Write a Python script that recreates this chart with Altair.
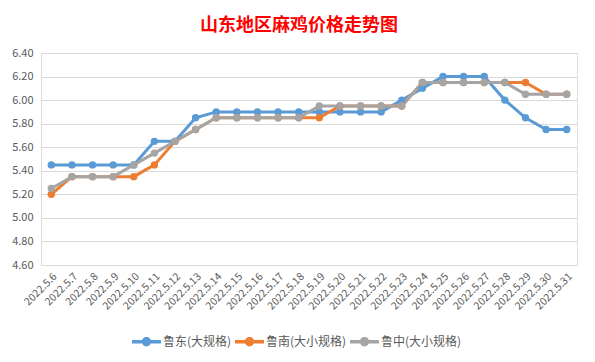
import altair as alt
import pandas as pd

dates = ["2022.5.%d" % d for d in range(6, 32)]
series_names = ["鲁东(大规格)", "鲁南(大小规格)", "鲁中(大小规格)"]
ludong = [5.45, 5.45, 5.45, 5.45, 5.45, 5.65, 5.65, 5.85, 5.90, 5.90, 5.90, 5.90, 5.90,
          5.90, 5.90, 5.90, 5.90, 6.00, 6.10, 6.20, 6.20, 6.20, 6.00, 5.85, 5.75, 5.75]
lunan = [5.20, 5.35, 5.35, 5.35, 5.35, 5.45, 5.65, 5.75, 5.85, 5.85, 5.85, 5.85, 5.85,
         5.85, 5.95, 5.95, 5.95, 5.95, 6.15, 6.15, 6.15, 6.15, 6.15, 6.15, 6.05, 6.05]
luzhong = [5.25, 5.35, 5.35, 5.35, 5.45, 5.55, 5.65, 5.75, 5.85, 5.85, 5.85, 5.85, 5.85,
           5.95, 5.95, 5.95, 5.95, 5.95, 6.15, 6.15, 6.15, 6.15, 6.15, 6.05, 6.05, 6.05]
colors = ["#5B9BD5", "#ED7D31", "#A5A5A5"]
y_ticks = [4.6, 4.8, 5.0, 5.2, 5.4, 5.6, 5.8, 6.0, 6.2, 6.4]

rows = []
for name, vals in zip(series_names, [ludong, lunan, luzhong]):
    for d, v in zip(dates, vals):
        rows.append({"date": d, "price": v, "series": name})
df = pd.DataFrame(rows)

font = "Noto Sans CJK SC"
x = alt.X("date:N", sort=dates, scale=alt.Scale(paddingOuter=0.5),
          axis=alt.Axis(title=None, labelAngle=-45, labelFontSize=10.5, labelColor="#595959",
                        labelFont=font, ticks=False, domain=False, grid=False, labelPadding=6))
y = alt.Y("price:Q", scale=alt.Scale(domain=[4.6, 6.4], nice=False, zero=False),
          axis=alt.Axis(title=None, values=y_ticks, format=".2f", labelFontSize=11,
                        labelColor="#595959", labelFont=font, ticks=False, domain=False,
                        gridColor="#D9D9D9", gridWidth=1, labelPadding=8))
legend_path = ("M -1 -0.12 H 1 V 0.12 H -1 Z "
               "M 0.32 0 A 0.32 0.32 0 1 1 -0.32 0 A 0.32 0.32 0 1 1 0.32 0 Z")
color = alt.Color("series:N", sort=series_names,
                  scale=alt.Scale(domain=series_names, range=colors),
                  legend=alt.Legend(title=None, orient="none", direction="horizontal",
                                    legendX=91, legendY=274, symbolType=legend_path,
                                    symbolSize=841, symbolStrokeWidth=0,
                                    labelFontSize=12, labelColor="#595959", labelFont=font,
                                    columnPadding=3, labelOffset=2))

base = alt.Chart(df).encode(x=x, y=y, color=color)
lines = base.mark_line(strokeWidth=3)
points = base.mark_point(filled=True, size=55, opacity=1)

chart = alt.layer(lines, points).properties(
    width=536, height=212,
    title=alt.TitleParams("山东地区麻鸡价格走势图", color="#FF0000", fontSize=18,
                          font=font, fontWeight="bold", anchor="middle", dx=-10, offset=12),
    autosize=alt.AutoSizeParams(type="none"),
    padding={"left": 33, "top": 45, "right": 10, "bottom": 89},
).configure_view(stroke=None).configure(background="white")

chart.save("out.html", embed_options={"renderer": "svg", "actions": False})
